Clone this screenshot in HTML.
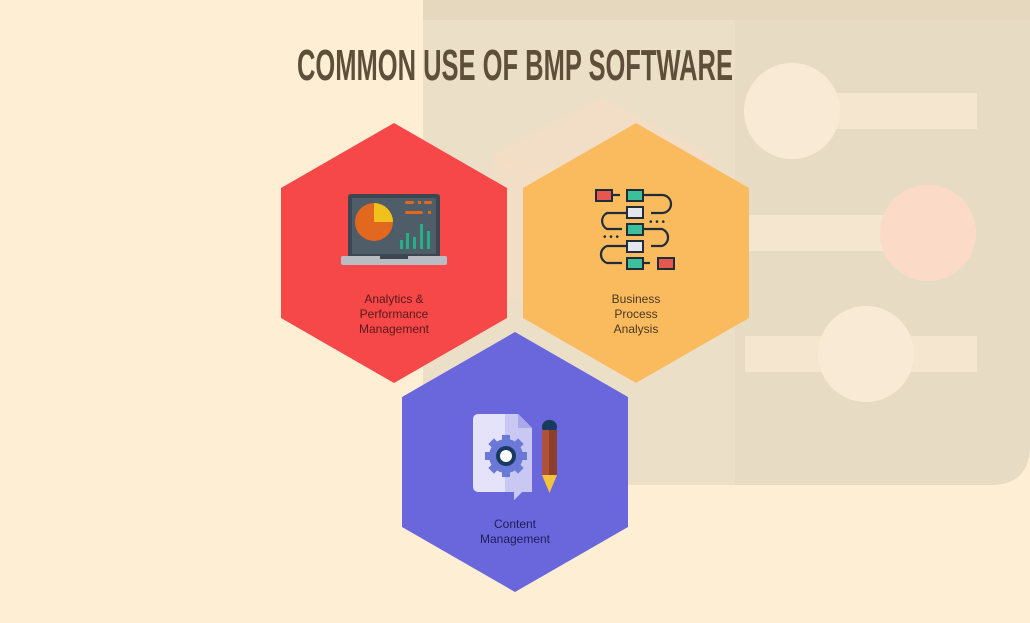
<!DOCTYPE html>
<html><head><meta charset="utf-8"><style>
html,body{margin:0;padding:0;background:#feeed4;}
#c{position:relative;width:1030px;height:623px;overflow:hidden;background:#feeed4;}
svg{position:absolute;left:0;top:0;}
</style></head><body><div id="c">
<svg width="1030" height="623" viewBox="0 0 1030 623" xmlns="http://www.w3.org/2000/svg">
<path d="M423 0 H1030 V445 Q1030 485 990 485 H423 Z" fill="#ecdfc8"/>
<path d="M735 0 H1030 V445 Q1030 485 990 485 H735 Z" fill="#e8dbc3"/>
<rect x="423" y="0" width="607" height="20" fill="#e6d8be"/>
<rect x="792" y="93" width="185" height="36" fill="#f4e6cf"/>
<circle cx="792" cy="111" r="48" fill="#f8ead4"/>
<rect x="745" y="215" width="183" height="36" fill="#f4e6cf"/>
<circle cx="928" cy="233" r="48" fill="#fbdbc8"/>
<rect x="745" y="336" width="232" height="36" fill="#f4e6cf"/>
<circle cx="866" cy="354" r="48" fill="#f8ead4"/>
<path d="M492 155 L602 97 L712 155 L712 300 L492 300 Z" fill="#fcdcc4" opacity="0.4"/>
<path d="M492 155 L602 200 L712 155" fill="none" stroke="#fbd6c0" stroke-width="2" opacity="0.5"/>
<text x="515" y="80" text-anchor="middle" font-family="'Liberation Sans Narrow','Liberation Sans',sans-serif" font-weight="bold" font-size="44" fill="#5e4f3a" textLength="436" lengthAdjust="spacingAndGlyphs">COMMON USE OF BMP SOFTWARE</text>
<polygon points="394,123 507,188 507,318 394,383 281,318 281,188" fill="#f64749"/>
<polygon points="636,123 749,188 749,318 636,383 523,318 523,188" fill="#fabb5e"/>
<polygon points="515,332 628,397 628,527 515,592 402,527 402,397" fill="#6967db"/>
<rect x="348" y="194" width="92" height="64" rx="3" fill="#3b4650"/>
<rect x="352" y="198" width="84" height="56" fill="#4f5d69"/>
<circle cx="374" cy="222" r="19" fill="#e2671f"/>
<path d="M374 222 V203 A19 19 0 0 1 393 222 Z" fill="#f2c01c"/>
<rect x="405" y="201" width="9" height="3" rx="1.5" fill="#e2671f"/><rect x="418" y="201" width="3" height="3" fill="#e2671f"/><rect x="424" y="201" width="8" height="3" rx="1.5" fill="#e2671f"/>
<rect x="405" y="211" width="18" height="3" rx="1.5" fill="#e2671f"/><rect x="428" y="211" width="3" height="3" fill="#e2671f"/>
<g fill="#25b08a"><rect x="400" y="240" width="3" height="9"/><rect x="406" y="233" width="3" height="16"/><rect x="413" y="237" width="3" height="12"/><rect x="420" y="224" width="3" height="25"/><rect x="427" y="231" width="3" height="18"/></g>
<rect x="341" y="256" width="106" height="9" rx="2" fill="#b9bcc2"/>
<rect x="380" y="256" width="28" height="3" fill="#3b4650"/>
<g stroke="#1f2d3b" stroke-width="2.2" fill="none">
<path d="M643 195 H662 A9 9 0 0 1 662 213 H651"/>
<path d="M626 213 H607 A9 9 0 0 0 607 229 H622"/>
<path d="M643 229 H662 A9 9 0 0 1 662 246 H651"/>
<path d="M626 246 H607 A9 9 0 0 0 607 263 H622"/>
<path d="M613 195 H620"/><path d="M643 263 H650"/>
</g>
<g fill="#1f2d3b" font-size="10"><text x="649" y="225" font-family="Liberation Sans">• • •</text><text x="603" y="240" font-family="Liberation Sans">• • •</text></g>
<g stroke="#1f2d3b" stroke-width="2">
<rect x="596" y="190" width="16" height="11" fill="#e8574f"/>
<rect x="627" y="190" width="16" height="11" fill="#3dbf9a"/>
<rect x="627" y="207" width="16" height="11" fill="#e4e6ee"/>
<rect x="627" y="224" width="16" height="11" fill="#3dbf9a"/>
<rect x="627" y="241" width="16" height="11" fill="#e4e6ee"/>
<rect x="627" y="258" width="16" height="11" fill="#3dbf9a"/>
<rect x="658" y="258" width="16" height="11" fill="#e8574f"/>
</g>
<path d="M478 414 H518 L532 428 V492 H522 L514 500 V492 H478 A5 5 0 0 1 473 487 V419 A5 5 0 0 1 478 414 Z" fill="#e4e3fa"/>
<path d="M505 414 H518 L532 428 V492 H522 L514 500 V492 H505 Z" fill="#c9c8f3"/>
<path d="M518 414 V428 H532 Z" fill="#a9a8e8"/>
<circle cx="506" cy="456" r="17" fill="#6a78d8"/>
<g fill="#6a78d8"><rect x="502" y="435" width="8" height="42"/><rect x="485" y="452" width="42" height="8"/><rect x="502" y="435" width="8" height="42" transform="rotate(45 506 456)"/><rect x="502" y="435" width="8" height="42" transform="rotate(-45 506 456)"/></g>
<circle cx="506" cy="456" r="10" fill="#173a5e"/><circle cx="506" cy="456" r="6" fill="#fff"/>
<rect x="542" y="420" width="15" height="14" rx="7" fill="#173a5e"/>
<rect x="542" y="430" width="15" height="45" fill="#b0523a"/>
<rect x="549" y="430" width="8" height="45" fill="#8e3f2c"/>
<path d="M542 475 H557 L549.5 493 Z" fill="#f5c33b"/>
<g font-family="'Liberation Sans',sans-serif" font-size="12" text-anchor="middle">
<text x="394" y="303" fill="#5a1a1a">Analytics &amp;</text>
<text x="394" y="318" fill="#5a1a1a">Performance</text>
<text x="394" y="333" fill="#5a1a1a">Management</text>
<text x="636" y="303" fill="#4a3820">Business</text>
<text x="636" y="318" fill="#4a3820">Process</text>
<text x="636" y="333" fill="#4a3820">Analysis</text>
<text x="515" y="528" fill="#1e1e5a">Content</text>
<text x="515" y="543" fill="#1e1e5a">Management</text>
</g>
</svg>
</div></body></html>
